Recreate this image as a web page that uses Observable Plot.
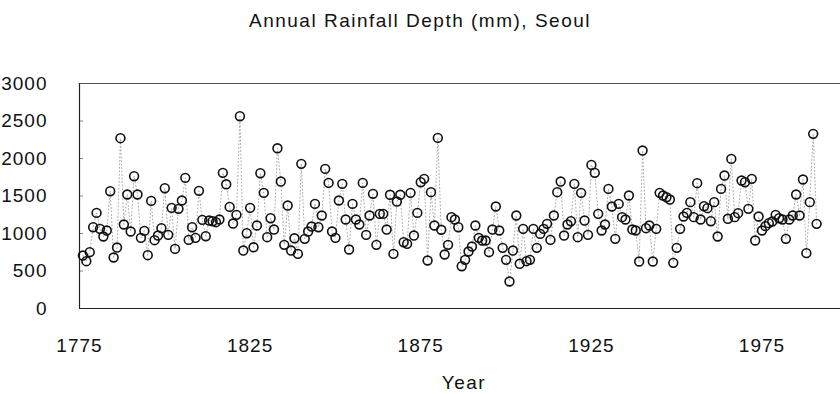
<!DOCTYPE html>
<html>
<head>
<meta charset="utf-8">
<script src="https://cdn.jsdelivr.net/npm/d3@7"></script>
<script src="https://cdn.jsdelivr.net/npm/@observablehq/plot@0.6"></script>
<style>
  html, body { margin: 0; padding: 0; background: #fff; }
  body { width: 840px; height: 394px; overflow: hidden; font-family: "Liberation Sans", Arial, sans-serif; color: #111; }
  #title { height: 40px; line-height: 42px; text-align: center; font-size: 19px; letter-spacing: 1.5px; }
  #xlabel { position: relative; height: 20px; }
  #xlabel span { position: absolute; left: 464px; transform: translateX(-50%); top: -2px; font-size: 19px; letter-spacing: 1.5px; line-height: 22px; }
  #chart svg { display: block; }
</style>
</head>
<body>
<div id="title">Annual Rainfall Depth (mm), Seoul</div>
<div id="chart"></div>
<div id="xlabel"><span>Year</span></div>
<script>
// Data (annual rainfall, mm), one value per year
const firstYear = 1776;
const rainfall = [
  707, 631, 751, 1084, 1275, 1062, 960, 1040, 1564, 680, 813, 2271, 1120, 1520, 1027, 1764, 1520, 942, 1035, 711,
  1435, 911, 973, 1071, 1604, 982, 1342, 795, 1329, 1440, 1742, 915, 1084, 942, 1569, 1182, 964, 1173, 1164, 1151,
  1187, 1809, 1657, 1355, 1133, 1249, 2564, 773, 1004, 1342, 817,
  1107, 1804, 1542, 951, 1204, 1053, 2137, 1693, 849, 1373, 773, 937, 729, 1929, 929, 1027, 1093, 1395, 1084, 1240,
  1862, 1675, 1027, 942, 1440, 1662, 1187, 787, 1395, 1187, 1120, 1675, 982, 1240, 1529, 849, 1262, 1262, 1053, 1516,
  729, 1426, 1516, 884, 862, 1542, 973, 1275, 1684, 1729, 640, 1551, 1107,
  2275, 1050, 720, 849, 1218, 1187, 1084, 564, 649, 760, 827, 1107, 942, 907, 907, 751, 1053, 1360, 1040, 809,
  649, 360, 773, 1240, 596, 1062, 631, 649, 1062, 809, 995, 1062, 1129, 915, 1240, 1551, 1693, 973, 1120, 1164,
  1662, 951, 1542, 1173, 982, 1915, 1809, 1262, 1040, 1120, 1595, 1360,
  929, 1395, 1218, 1187, 1507, 1053, 1040, 627, 2106, 1071, 1107, 627, 1062, 1542, 1507, 1484, 1453, 609, 809, 1062,
  1227, 1275, 1418, 1218, 1671, 1187, 1364, 1338, 1164, 1418, 960, 1595, 1773, 1196, 1995, 1218, 1271, 1707, 1684, 1329,
  1729, 907, 1227, 1040, 1098, 1138, 1160, 1249, 1204, 1187, 929, 1187, 1240, 1520, 1240, 1720, 738, 1418, 2329, 1129
];
const xDomain = [1775, 1998];
const yDomain = [0, 3000];
const xTicks = [1775, 1825, 1875, 1925, 1975];
const yTicks = [0, 500, 1000, 1500, 2000, 2500, 3000];

const data = rainfall.map((mm, i) => ({year: firstYear + i, mm}));

const chart = Plot.plot({
  width: 840,
  height: 334,
  marginTop: 43,
  marginBottom: 66,
  marginLeft: 79,
  marginRight: 0,
  style: {
    fontFamily: '"Liberation Sans", Arial, sans-serif',
    fontSize: "19px",
    letterSpacing: "1px",
    color: "#111",
    background: "#fff",
    overflow: "visible"
  },
  x: {domain: xDomain, label: null},
  y: {domain: yDomain, label: null},
  marks: [
    Plot.axisY(yTicks, {tickSize: -4, tickPadding: 36, stroke: "#888", fill: "#111", tickFormat: d => String(d), label: null}),
    Plot.axisX(xTicks, {tickSize: 0, tickPadding: 30, fill: "#111", tickFormat: d => String(d), label: null}),
    Plot.ruleY([yDomain[0]], {stroke: "#222", strokeWidth: 1.2}),
    Plot.ruleY([yDomain[1]], {stroke: "#555", strokeWidth: 1.2}),
    Plot.ruleX([xDomain[0]], {stroke: "#222", strokeWidth: 1.2}),
    Plot.line(data, {x: "year", y: "mm", stroke: "#aaa", strokeWidth: 1, strokeDasharray: "1,2.5"}),
    Plot.dot(data, {x: "year", y: "mm", r: 4.4, stroke: "#111", strokeWidth: 1.6, fill: "none"})
  ]
});
document.getElementById("chart").appendChild(chart);
</script>
</body>
</html>
